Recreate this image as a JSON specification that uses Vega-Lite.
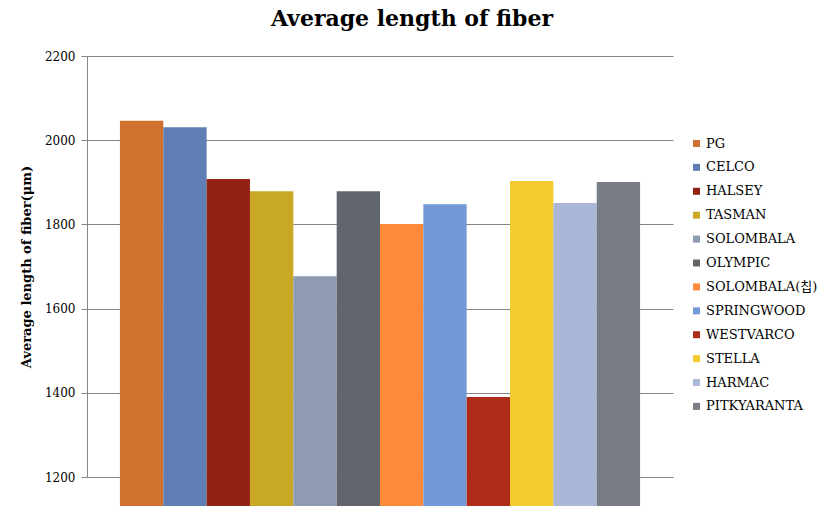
{
  "$schema": "https://vega.github.io/schema/vega-lite/v6.json",
  "width": 586,
  "height": 421,
  "autosize": "none",
  "padding": {"left": 87, "top": 56, "right": 153, "bottom": 29},
  "background": "white",
  "title": {"text": "Average length of fiber", "font": "DejaVu Serif", "fontSize": 22, "fontWeight": "bold", "color": "#000000", "anchor": "middle", "dx": 32, "offset": 19},
  "data": {"values": [
    {"mill": "PG", "len": 2046},
    {"mill": "CELCO", "len": 2031},
    {"mill": "HALSEY", "len": 1908},
    {"mill": "TASMAN", "len": 1879},
    {"mill": "SOLOMBALA", "len": 1677},
    {"mill": "OLYMPIC", "len": 1879},
    {"mill": "SOLOMBALA(칩)", "len": 1801},
    {"mill": "SPRINGWOOD", "len": 1848},
    {"mill": "WESTVARCO", "len": 1390},
    {"mill": "STELLA", "len": 1903},
    {"mill": "HARMAC", "len": 1851},
    {"mill": "PITKYARANTA", "len": 1901}
  ]},
  "mark": {"type": "bar"},
  "encoding": {
    "x": {"field": "mill", "type": "nominal", "sort": null,
      "scale": {"paddingInner": 0, "paddingOuter": 0.76},
      "axis": {"title": null, "labels": false, "ticks": false, "domainColor": "#868686", "grid": false}},
    "y": {"field": "len", "type": "quantitative",
      "scale": {"domain": [1200, 2200], "zero": false, "nice": false},
      "axis": {"values": [1200, 1400, 1600, 1800, 2000, 2200], "format": "d", "title": "Average length of fiber(μm)",
        "titleFont": "DejaVu Serif", "titleFontSize": 13, "titleFontWeight": "bold", "titleColor": "#000000", "titlePadding": 11,
        "labelFont": "DejaVu Serif", "labelFontSize": 12, "labelColor": "#000000", "labelPadding": 6,
        "domainColor": "#868686", "tickColor": "#868686", "tickSize": 6, "gridColor": "#868686", "grid": true}},
    "color": {"field": "mill", "type": "nominal", "sort": null,
      "scale": {"domain": ["PG", "CELCO", "HALSEY", "TASMAN", "SOLOMBALA", "OLYMPIC", "SOLOMBALA(칩)", "SPRINGWOOD", "WESTVARCO", "STELLA", "HARMAC", "PITKYARANTA"],
        "range": ["#D0712F", "#5F7EB3", "#932215", "#C9A825", "#8F9BB2", "#61666D", "#FF8A3A", "#7399D6", "#B02C1A", "#F3CB2E", "#ABB7D6", "#787C85"]},
      "legend": {"title": null, "orient": "none", "legendX": 603, "legendY": 81,
        "symbolType": "square", "symbolSize": 49, "symbolStrokeWidth": 0,
        "labelFont": "DejaVu Serif, Noto Sans CJK KR", "labelFontSize": 13, "labelColor": "#000000", "rowPadding": 9.9, "labelOffset": 3}}
  },
  "config": {"view": {"stroke": null}}
}
